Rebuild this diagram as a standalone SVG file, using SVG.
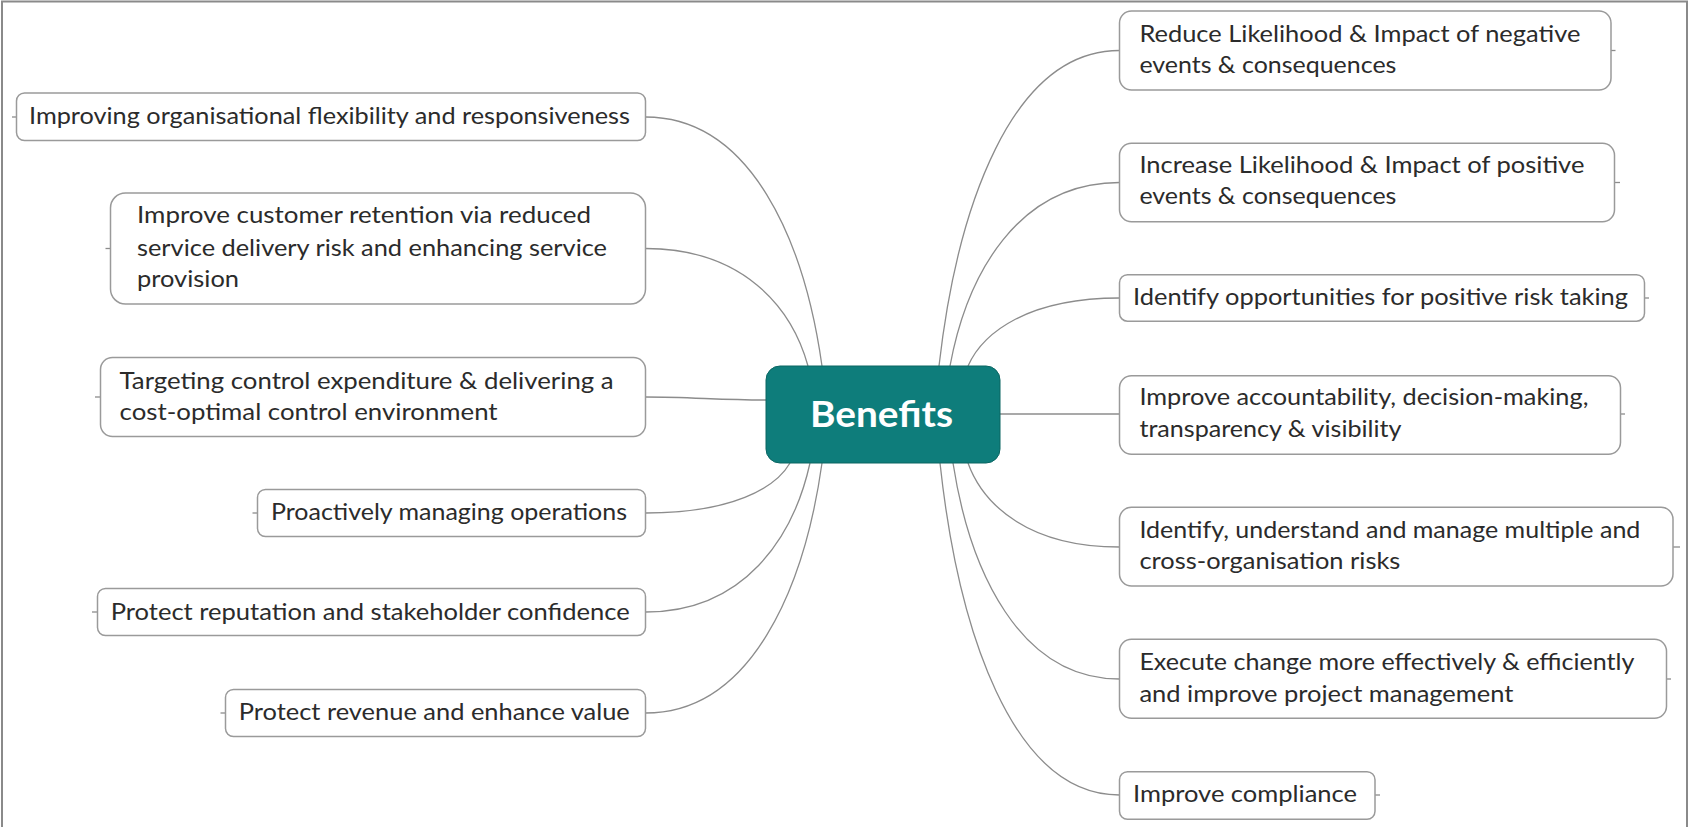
<svg xmlns="http://www.w3.org/2000/svg" width="1689" height="827" viewBox="0 0 1689 827">
<style>
.box{fill:#ffffff;stroke:#9a9a9a;stroke-width:1.5}
.t{font-family:Lato,"Open Sans","Liberation Sans",sans-serif;font-size:24px;fill:#2b2b2b}
.c{fill:none;stroke:#8c8c8c;stroke-width:1.3}
.stub{stroke:#8c8c8c;stroke-width:1.3}
.center{fill:#0e7d7b;stroke:#0a6663;stroke-width:1}
.ct{font-family:Lato,"Open Sans","Liberation Sans",sans-serif;font-size:37px;font-weight:bold;fill:#ffffff}
</style>
<rect x="2" y="1.5" width="1685" height="840" fill="#ffffff" stroke="#8a8a8a" stroke-width="2"/>
<g id="connectors">
<path class="c" d="M822,366 C804.4,241.5 751.4,117 645.5,117"/>
<path class="c" d="M808,366 C791.75,307.25 743,248.5 645.5,248.5"/>
<path class="c" d="M766,400 C720,400 690,397 645.5,397"/>
<path class="c" d="M790,463 C775.5,488 732.2,513 645.5,513"/>
<path class="c" d="M810,463 C793.5,537.5 744.2,612 645.5,612"/>
<path class="c" d="M822,463 C804.4,588 751.4,713 645.5,713"/>
<path class="c" d="M939,366 C957,208.25 1011.2,50.5 1119.5,50.5"/>
<path class="c" d="M950,366 C967,274.25 1017.8,182.5 1119.5,182.5"/>
<path class="c" d="M968,366 C983.2,332 1028.6,298 1119.5,298"/>
<path class="c" d="M1000,414 L1119.5,414"/>
<path class="c" d="M968,463 C983.2,505 1028.6,547 1119.5,547"/>
<path class="c" d="M953,463 C969.7,571 1019.6,679 1119.5,679"/>
<path class="c" d="M940,463 C958,629 1011.8,795 1119.5,795"/>
</g>
<g id="center">
<rect class="center" x="766" y="366" width="234" height="97" rx="14"/>
<text class="ct" x="810" y="427" textLength="143" lengthAdjust="spacingAndGlyphs">Benefits</text>
</g>
<g id="L1">
<line class="stub" x1="12" y1="117" x2="16.5" y2="117"/>
<rect class="box" x="16.5" y="93" width="629" height="47.5" rx="8"/>
<text class="t" x="29" y="124" textLength="601" lengthAdjust="spacingAndGlyphs">Improving organisational flexibility and responsiveness</text>
</g>
<g id="L2">
<line class="stub" x1="105.5" y1="248.5" x2="110.5" y2="248.5"/>
<rect class="box" x="110.5" y="193" width="535" height="111" rx="15"/>
<text class="t" x="137" y="223" textLength="454" lengthAdjust="spacingAndGlyphs">Improve customer retention via reduced</text>
<text class="t" x="137" y="255.5" textLength="470" lengthAdjust="spacingAndGlyphs">service delivery risk and enhancing service</text>
<text class="t" x="137" y="287" textLength="102" lengthAdjust="spacingAndGlyphs">provision</text>
</g>
<g id="L3">
<line class="stub" x1="95" y1="397" x2="100.5" y2="397"/>
<rect class="box" x="100.5" y="357.5" width="545" height="79" rx="12"/>
<text class="t" x="119.6" y="388.5" textLength="494" lengthAdjust="spacingAndGlyphs">Targeting control expenditure &amp; delivering a</text>
<text class="t" x="119.6" y="420" textLength="378" lengthAdjust="spacingAndGlyphs">cost-optimal control environment</text>
</g>
<g id="L4">
<line class="stub" x1="252.5" y1="513" x2="257.5" y2="513"/>
<rect class="box" x="257.5" y="489.5" width="388" height="47" rx="8"/>
<text class="t" x="271" y="520" textLength="356" lengthAdjust="spacingAndGlyphs">Proactively managing operations</text>
</g>
<g id="L5">
<line class="stub" x1="92" y1="612" x2="97.5" y2="612"/>
<rect class="box" x="97.5" y="588.5" width="548" height="47" rx="8"/>
<text class="t" x="110.7" y="620" textLength="519" lengthAdjust="spacingAndGlyphs">Protect reputation and stakeholder confidence</text>
</g>
<g id="L6">
<line class="stub" x1="220.5" y1="713" x2="225.5" y2="713"/>
<rect class="box" x="225.5" y="689.5" width="420" height="47" rx="8"/>
<text class="t" x="238.8" y="720" textLength="391" lengthAdjust="spacingAndGlyphs">Protect revenue and enhance value</text>
</g>
<g id="R1">
<line class="stub" x1="1611" y1="50.5" x2="1615.5" y2="50.5"/>
<rect class="box" x="1119.5" y="11" width="491.5" height="79" rx="12"/>
<text class="t" x="1139.4" y="41.7" textLength="441" lengthAdjust="spacingAndGlyphs">Reduce Likelihood &amp; Impact of negative</text>
<text class="t" x="1139.4" y="72.7" textLength="257" lengthAdjust="spacingAndGlyphs">events &amp; consequences</text>
</g>
<g id="R2">
<line class="stub" x1="1614.5" y1="182.5" x2="1620" y2="182.5"/>
<rect class="box" x="1119.5" y="143.3" width="495" height="78.4" rx="12"/>
<text class="t" x="1139.4" y="173.3" textLength="445" lengthAdjust="spacingAndGlyphs">Increase Likelihood &amp; Impact of positive</text>
<text class="t" x="1139.4" y="204" textLength="257" lengthAdjust="spacingAndGlyphs">events &amp; consequences</text>
</g>
<g id="R3">
<line class="stub" x1="1644.5" y1="298" x2="1649" y2="298"/>
<rect class="box" x="1119.5" y="274.7" width="525" height="46.5" rx="8"/>
<text class="t" x="1133" y="305" textLength="495" lengthAdjust="spacingAndGlyphs">Identify opportunities for positive risk taking</text>
</g>
<g id="R4">
<line class="stub" x1="1620.5" y1="414" x2="1625" y2="414"/>
<rect class="box" x="1119.5" y="375.7" width="501" height="78.6" rx="12"/>
<text class="t" x="1139.4" y="405" textLength="449" lengthAdjust="spacingAndGlyphs">Improve accountability, decision-making,</text>
<text class="t" x="1139.4" y="436.7" textLength="262" lengthAdjust="spacingAndGlyphs">transparency &amp; visibility</text>
</g>
<g id="R5">
<line class="stub" x1="1673" y1="547" x2="1680" y2="547"/>
<rect class="box" x="1119.5" y="507.3" width="553.5" height="78.7" rx="12"/>
<text class="t" x="1139.4" y="538.3" textLength="501" lengthAdjust="spacingAndGlyphs">Identify, understand and manage multiple and</text>
<text class="t" x="1139.4" y="569.3" textLength="261" lengthAdjust="spacingAndGlyphs">cross-organisation risks</text>
</g>
<g id="R6">
<line class="stub" x1="1666.5" y1="679" x2="1671" y2="679"/>
<rect class="box" x="1119.5" y="639.3" width="547" height="79" rx="12"/>
<text class="t" x="1139.4" y="670" textLength="495" lengthAdjust="spacingAndGlyphs">Execute change more effectively &amp; efficiently</text>
<text class="t" x="1139.4" y="701.7" textLength="374" lengthAdjust="spacingAndGlyphs">and improve project management</text>
</g>
<g id="R7">
<line class="stub" x1="1375" y1="795" x2="1380" y2="795"/>
<rect class="box" x="1119.5" y="771.7" width="255.5" height="47.6" rx="8"/>
<text class="t" x="1133" y="801.7" textLength="224" lengthAdjust="spacingAndGlyphs">Improve compliance</text>
</g>
</svg>
